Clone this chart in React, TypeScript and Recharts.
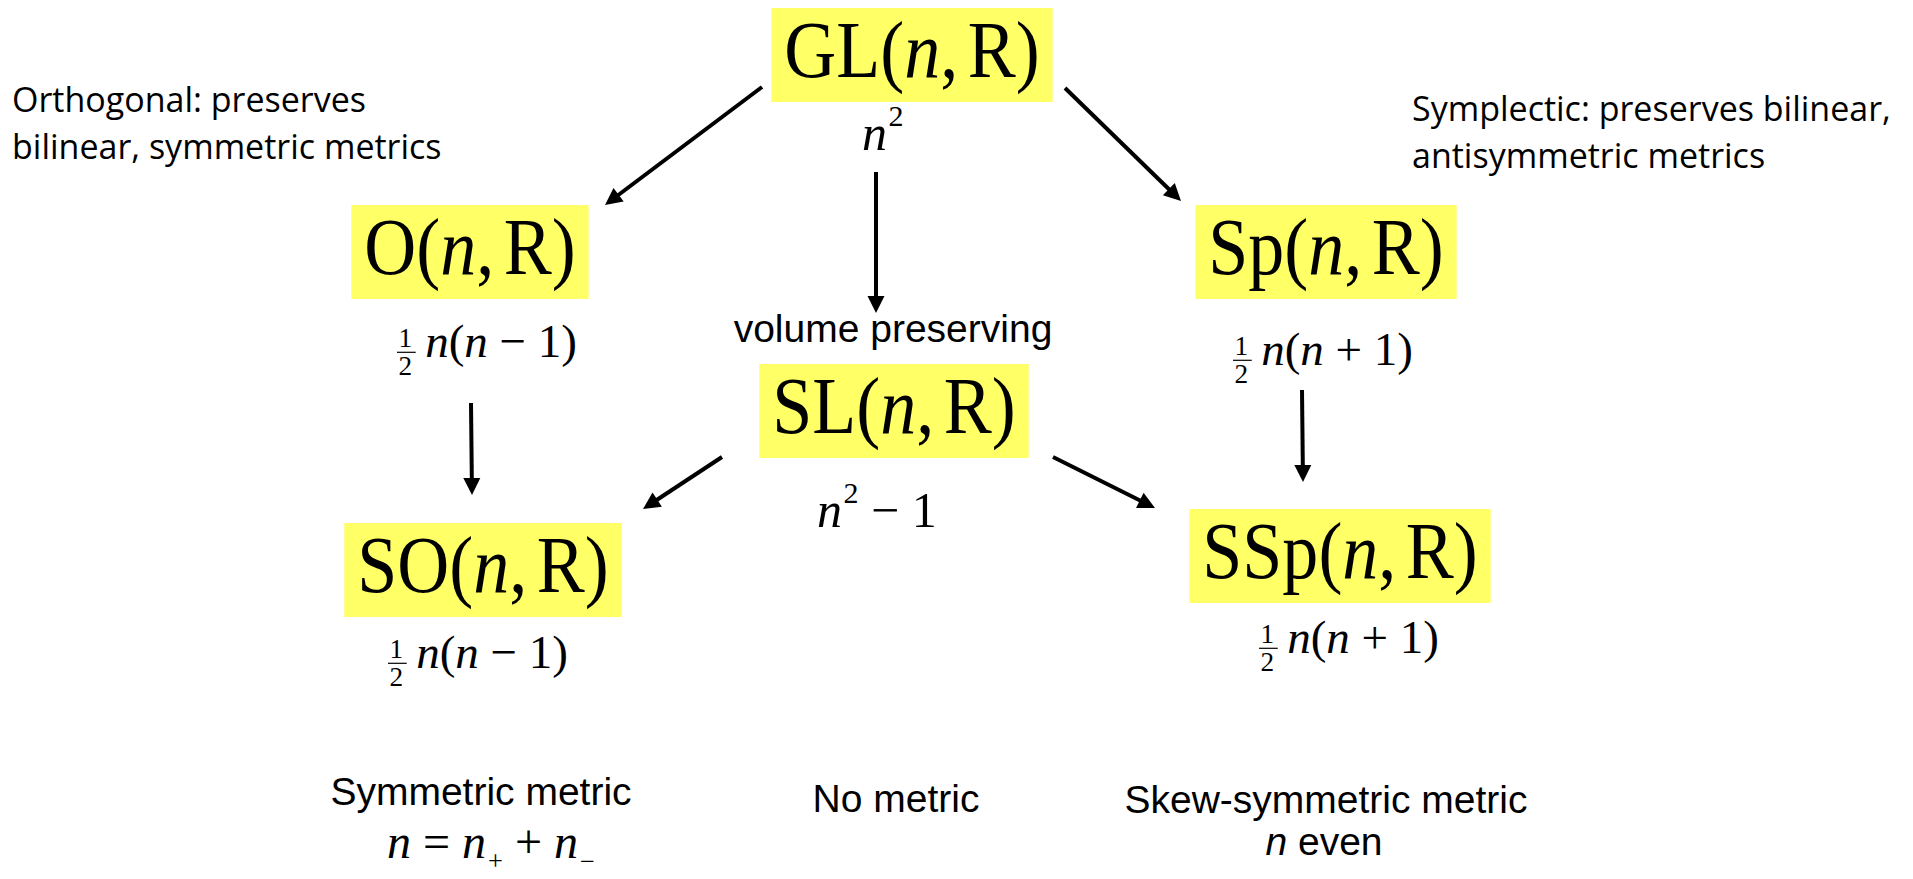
import { ScatterChart, Scatter, XAxis, YAxis, ReferenceLine } from "recharts";

const W = 1913;
const H = 879;

const SERIF = '"Liberation Serif", "Times New Roman", serif';
const SANS = '"Liberation Sans", Arial, sans-serif';
const NOTE_FONT = '"Open Sans", "Noto Sans", sans-serif';

// matrix groups, centre of the yellow box (page px)
const groups = ["GL", "O", "Sp", "SL", "SO", "SSp"];
const groupX = [912, 470, 1326, 894, 483, 1340];
const groupY = [55, 252, 252, 411, 570, 556];

// dimension formulas, left edge + baseline
const formulas = ["n²", "½n(n−1)", "½n(n+1)", "n²−1", "½n(n−1)", "½n(n+1)", "n=n₊+n₋"];
const formulaX = [862, 396, 1232, 817, 387, 1258, 387];
const formulaY = [150, 357, 365, 527, 668, 653, 858];

// arrows (tail -> tip)
const arrowX1 = [762, 876, 1065, 471, 1302, 722, 1053];
const arrowY1 = [87, 172, 88, 403, 390, 457, 457];
const arrowX2 = [605, 876, 1181, 472, 1303, 643, 1155];
const arrowY2 = [205, 313, 201, 495, 482, 509, 508];

// side notes (left edge + baseline)
const notes = [
  "Orthogonal: preserves",
  "bilinear, symmetric metrics",
  "Symplectic: preserves bilinear,",
  "antisymmetric metrics",
];
const noteX = [12, 12, 1412, 1412];
const noteY = [112, 159, 121, 168];

// captions (centre + baseline)
const captions = ["volume preserving", "Symmetric metric", "No metric", "Skew-symmetric metric", "n even"];
const captionX = [893, 481, 896, 1326, 1324];
const captionY = [342, 805, 812, 813, 855];

const groupData = groups.map((name, i) => ({ x: groupX[i], y: groupY[i], name }));
const formulaData = formulas.map((text, i) => ({ x: formulaX[i], y: formulaY[i], text }));
const noteData = notes.map((text, i) => ({ x: noteX[i], y: noteY[i], text }));
const captionData = captions.map((text, i) => ({ x: captionX[i], y: captionY[i], text }));

const TIMES: Record<string, number> = { G: 0.722, L: 0.611, O: 0.722, S: 0.556, p: 0.5 };
function labelWidth(name: string, fs: number) {
  const head = name.split("").reduce((a, c) => a + (TIMES[c] ?? 0.6), 0);
  return (head + 2.213) * fs;
}

const GroupNode = (props: any) => {
  const { cx, cy, payload } = props;
  const fs = 72;
  const w = labelWidth(payload.name, fs) + 26;
  return (
    <g>
      <rect x={cx - w / 2} y={cy - 47} width={w} height={94} fill="#FFFF66" />
      <text
        transform={`translate(${cx},${cy + 22}) scale(1,1.12)`}
        textAnchor="middle"
        fontFamily={SERIF}
        fontSize={fs}
        fill="#000"
      >
        {payload.name}(<tspan fontStyle="italic">n</tspan>,<tspan dx={fs * 0.13}>R</tspan>)
      </text>
    </g>
  );
};

const FormulaMark = (props: any) => {
  const { cx, cy, payload } = props;
  const s: string = payload.text;
  const fs = s.startsWith("½") ? 47 : s.includes("²") ? 50 : 48;
  let x0 = cx;
  let body = s;
  const frac: any[] = [];
  if (s.startsWith("½")) {
    const fx = cx + fs * 0.2;
    frac.push(
      <text key="num" x={fx} y={cy - fs * 0.21} textAnchor="middle" fontFamily={SERIF} fontSize={fs * 0.58}>1</text>,
      <line key="bar" x1={cx + 1} x2={cx + fs * 0.42} y1={cy - fs * 0.1} y2={cy - fs * 0.1} stroke="#000" strokeWidth={1.2} />,
      <text key="den" x={fx} y={cy + fs * 0.38} textAnchor="middle" fontFamily={SERIF} fontSize={fs * 0.58}>2</text>
    );
    x0 = cx + fs * 0.62;
    body = s.slice(1);
  }
  const spans: any[] = [];
  let cur = 0;
  let prevOp = false;
  Array.from(body).forEach((ch, i) => {
    let t = 0;
    let size = fs;
    let txt = ch;
    let italic = false;
    let dx = prevOp ? fs * 0.25 : 0;
    let op = false;
    if (ch === "n") italic = true;
    else if (ch === "²") {
      t = -0.48 * fs;
      size = 0.6 * fs;
      txt = "2";
      dx += 0.03 * fs;
    } else if (ch === "₊" || ch === "₋") {
      t = 0.25 * fs;
      size = 0.55 * fs;
      txt = ch === "₊" ? "+" : "−";
      dx += 0.04 * fs;
    } else if ("−+=".includes(ch)) {
      dx += 0.25 * fs;
      op = true;
    }
    spans.push(
      <tspan key={i} dy={t - cur} dx={dx} fontSize={size} fontStyle={italic ? "italic" : "normal"}>
        {txt}
      </tspan>
    );
    cur = t;
    prevOp = op;
  });
  return (
    <g>
      {frac}
      <text x={x0} y={cy} fontFamily={SERIF} fontSize={fs} fill="#000">
        {spans}
      </text>
    </g>
  );
};

const NoteMark = (props: any) => {
  const { cx, cy, payload } = props;
  return (
    <text x={cx} y={cy} fontFamily={NOTE_FONT} fontSize={34} fill="#000">
      {payload.text}
    </text>
  );
};

const CaptionMark = (props: any) => {
  const { cx, cy, payload } = props;
  const s: string = payload.text;
  const italicN = s.startsWith("n ");
  return (
    <text x={cx} y={cy} textAnchor="middle" fontFamily={SANS} fontSize={39} fill="#000" style={{ whiteSpace: "pre" }}>
      {italicN ? (
        <>
          <tspan fontStyle="italic">n</tspan>
          <tspan>{s.slice(1)}</tspan>
        </>
      ) : (
        s
      )}
    </text>
  );
};

const Arrow = (props: any) => {
  const { x1, y1, x2, y2 } = props;
  const dx = x2 - x1;
  const dy = y2 - y1;
  const len = Math.hypot(dx, dy) || 1;
  const ux = dx / len;
  const uy = dy / len;
  const hl = 17;
  const hw = 8.5;
  const bx = x2 - ux * hl;
  const by = y2 - uy * hl;
  const pts = `${x2},${y2} ${bx - uy * hw},${by + ux * hw} ${bx + uy * hw},${by - ux * hw}`;
  return (
    <g>
      <line x1={x1} y1={y1} x2={bx + ux * 2} y2={by + uy * 2} stroke="#000" strokeWidth={4} />
      <polygon points={pts} fill="#000" />
    </g>
  );
};

export default function App() {
  return (
    <div style={{ position: "absolute", left: 0, top: 0, width: W, height: H, background: "#fff" }}>
      <ScatterChart width={W} height={H} margin={{ top: 0, right: 0, bottom: 0, left: 0 }}>
        <XAxis type="number" dataKey="x" domain={[0, W]} hide allowDataOverflow />
        <YAxis type="number" dataKey="y" domain={[0, H]} reversed hide allowDataOverflow />
        {arrowX1.map((_, i) => (
          <ReferenceLine
            key={i}
            segment={[
              { x: arrowX1[i], y: arrowY1[i] },
              { x: arrowX2[i], y: arrowY2[i] },
            ]}
            ifOverflow="visible"
            shape={Arrow}
          />
        ))}
        <Scatter data={groupData} shape={GroupNode} isAnimationActive={false} />
        <Scatter data={formulaData} shape={FormulaMark} isAnimationActive={false} />
        <Scatter data={noteData} shape={NoteMark} isAnimationActive={false} />
        <Scatter data={captionData} shape={CaptionMark} isAnimationActive={false} />
      </ScatterChart>
    </div>
  );
}
